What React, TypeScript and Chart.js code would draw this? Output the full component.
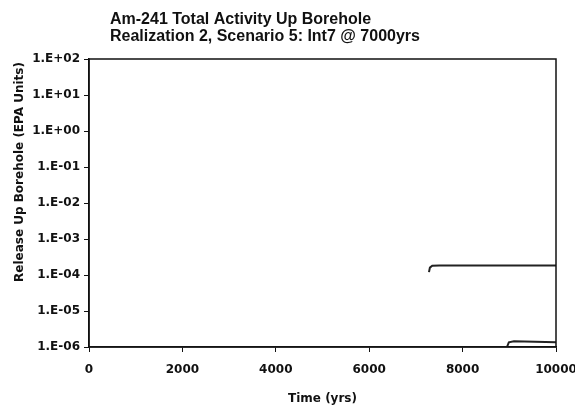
import React, { useEffect, useRef } from "react";
import { Chart, registerables } from "chart.js";

Chart.register(...registerables);

const titleLines = ["Am-241 Total Activity Up Borehole", "Realization 2, Scenario 5: Int7 @ 7000yrs"];
const yAxisTitle = "Release Up Borehole (EPA Units)";
const xAxisTitle = "Time (yrs)";

const yTickValues = [1e-6, 1e-5, 1e-4, 1e-3, 1e-2, 1e-1, 1, 10, 100];

const series1Time = [7280, 7300, 7350, 7500, 10000];
const series1Value = [1.2e-4, 1.6e-4, 1.8e-4, 1.85e-4, 1.85e-4];

const series2Time = [0, 8950, 8990, 9100, 10000];
const series2Value = [1e-6, 1e-6, 1.35e-6, 1.45e-6, 1.35e-6];

const fmtExp = (v: number) => {
  const e = Math.round(Math.log10(v));
  return "1.E" + (e >= 0 ? "+" : "-") + String(Math.abs(e)).padStart(2, "0");
};

const PLOT = { left: 89, right: 556, top: 59, bottom: 347 };

export default function App() {
  const ref = useRef<HTMLCanvasElement | null>(null);
  useEffect(() => {
    document.body.style.margin = "0";
    const canvas = ref.current!;
    const framePlugin = {
      id: "frame",
      afterDraw(chart: any) {
        const { ctx, chartArea } = chart;
        ctx.save();
        ctx.strokeStyle = "#111";
        ctx.lineWidth = 1.5;
        ctx.strokeRect(chartArea.left, chartArea.top, chartArea.right - chartArea.left, chartArea.bottom - chartArea.top);
        ctx.fillStyle = "#111";
        ctx.textAlign = "left";
        ctx.textBaseline = "alphabetic";
        ctx.font = "bold 16px 'Liberation Sans', Arial, sans-serif";
        ctx.fillText(titleLines[0], 110, 24);
        ctx.fillText(titleLines[1], 110, 41);
        ctx.save();
        ctx.translate(20, 172);
        ctx.rotate(-Math.PI / 2);
        ctx.textAlign = "center";
        ctx.textBaseline = "middle";
        ctx.font = "bold 12px 'DejaVu Sans', sans-serif";
        ctx.fillText(yAxisTitle, 0, 0);
        ctx.restore();
        ctx.textAlign = "center";
        ctx.textBaseline = "middle";
        ctx.font = "bold 12px 'DejaVu Sans', sans-serif";
        ctx.fillText(xAxisTitle, (chartArea.left + chartArea.right) / 2, 399);
        ctx.restore();
      },
    };
    const chart = new Chart(canvas, {
      type: "line",
      data: {
        datasets: [
          {
            data: series1Time.map((t, i) => ({ x: t, y: series1Value[i] })),
            borderColor: "#222",
            borderWidth: 2,
            pointRadius: 0,
            tension: 0,
            fill: false,
          },
          {
            data: series2Time.map((t, i) => ({ x: t, y: series2Value[i] })),
            borderColor: "#222",
            borderWidth: 2,
            pointRadius: 0,
            tension: 0,
            fill: false,
          },
        ],
      },
      options: {
        animation: false,
        responsive: false,
        layout: { padding: { top: PLOT.top, right: 575 - PLOT.right, left: 0, bottom: 0 } },
        plugins: { legend: { display: false }, tooltip: { enabled: false }, title: { display: false } },
        scales: {
          x: {
            type: "linear",
            min: 0,
            max: 10000,
            ticks: {
              stepSize: 2000,
              callback: (v: any) => String(v),
              color: "#111",
              font: { family: "'DejaVu Sans', sans-serif", size: 12, weight: "bold" },
              padding: 11,
              maxRotation: 0,
            },
            grid: { drawOnChartArea: false, drawTicks: true, tickLength: 5, color: "#111" },
            border: { display: true, color: "#111", width: 1.5 },
            afterFit(scale: any) {
              scale.height = 409 - PLOT.bottom;
              scale.paddingLeft = 0;
              scale.paddingRight = 0;
            },
          },
          y: {
            type: "logarithmic",
            min: 1e-6,
            max: 100,
            afterBuildTicks(scale: any) {
              scale.ticks = yTickValues.map((v) => ({ value: v, major: true }));
            },
            ticks: {
              callback: (v: any) => fmtExp(Number(v)),
              color: "#111",
              font: { family: "'DejaVu Sans', sans-serif", size: 12, weight: "bold" },
              padding: 4,
              autoSkip: false,
            },
            grid: { drawOnChartArea: false, drawTicks: true, tickLength: 5, color: "#111" },
            border: { display: true, color: "#111", width: 1.5 },
            afterFit(scale: any) {
              scale.width = PLOT.left;
              scale.paddingTop = 0;
              scale.paddingBottom = 0;
            },
          },
        },
      },
      plugins: [framePlugin],
    });
    return () => chart.destroy();
  }, []);
  return (
    <div style={{ position: "fixed", left: 0, top: 0, width: 575, height: 409, background: "#fff" }}>
      <canvas ref={ref} width={575} height={409} style={{ display: "block" }} />
    </div>
  );
}
